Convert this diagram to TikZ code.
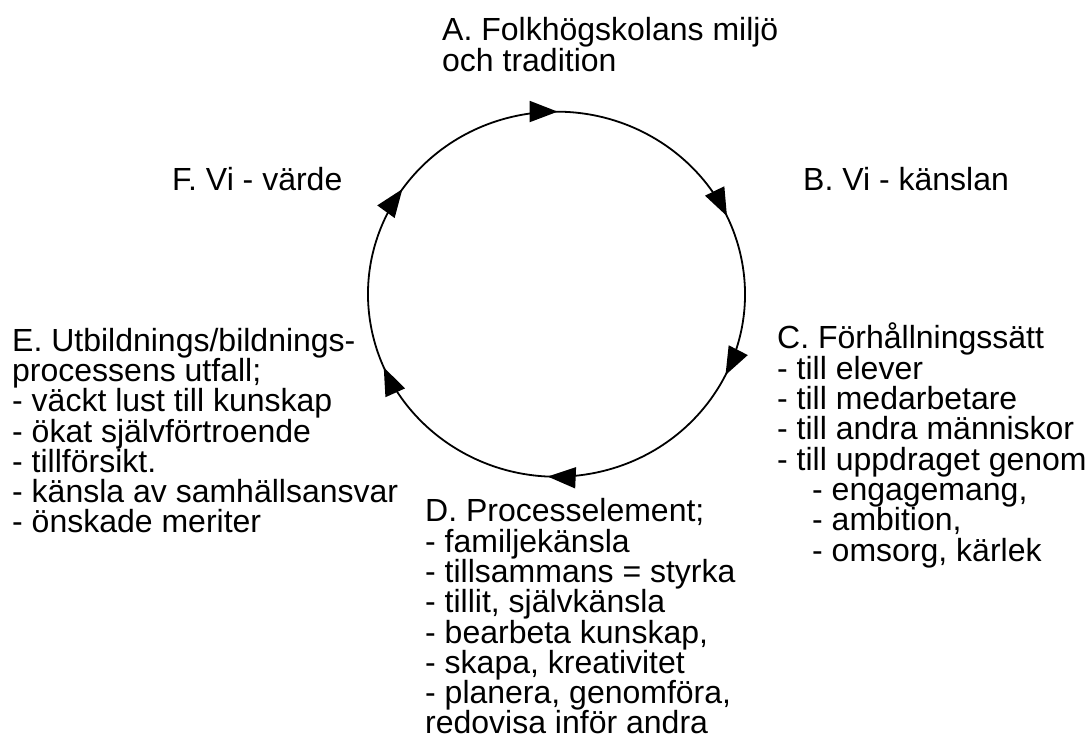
\documentclass[tikz,border=0pt]{standalone}
\usepackage{fontspec}
\setmainfont{Liberation Sans}
\usetikzlibrary{arrows.meta,decorations.markings}
\newcommand{\firststrut}{\rule{0pt}{25pt}}
\begin{document}
\begin{tikzpicture}[x=1pt,y=1pt,
  >={Triangle[length=28pt,width=21pt]},
  lbl/.style={anchor=north west, inner sep=0pt, align=left,
    font=\fontsize{32}{30.3}\selectfont},
  cyc/.style={line width=1.8pt, postaction={decorate},
    decoration={markings,
      mark=at position 0.0292 with {\arrow{>}},
      mark=at position 0.2089 with {\arrow{>}},
      mark=at position 0.3503 with {\arrow{>}},
      mark=at position 0.5358 with {\arrow{>}},
      mark=at position 0.7136 with {\arrow{>}},
      mark=at position 0.8747 with {\arrow{>}}}}]
\useasboundingbox (0,0) rectangle (1087,744);
\coordinate (O) at (556.5,449.8);
\draw[cyc] (O) ++(100:188.5 and 182.5)
  arc[start angle=100, end angle=-260, x radius=188.5, y radius=182.5];

\node[lbl, font=\fontsize{32}{31.7}\selectfont] (A) at (442,729)
  {\firststrut A. Folkhögskolans miljö\\och tradition};
\node[lbl] (B) at (803,579) {\firststrut B. Vi - känslan};
\node[lbl] (F) at (172,579) {\firststrut F. Vi - värde};
\node[lbl] (C) at (777,421) {\firststrut C. Förhållningssätt\\- till elever\\- till medarbetare\\- till andra människor\\- till uppdraget genom\\\hspace*{35pt}- engagemang,\\\hspace*{35pt}- ambition,\\\hspace*{35pt}- omsorg, kärlek};
\node[lbl] (D) at (425,247.3) {\firststrut D. Processelement;\\- familjekänsla\\- tillsammans = styrka\\- tillit, självkänsla\\- bearbeta kunskap,\\- skapa, kreativitet\\- planera, genomföra,\\redovisa inför andra};
\node[lbl] (E) at (12,418) {\firststrut E. Utbildnings/bildnings-\\processens utfall;\\- väckt lust till kunskap\\- ökat självförtroende\\- tillförsikt.\\- känsla av samhällsansvar\\- önskade meriter};
\end{tikzpicture}
\end{document}
